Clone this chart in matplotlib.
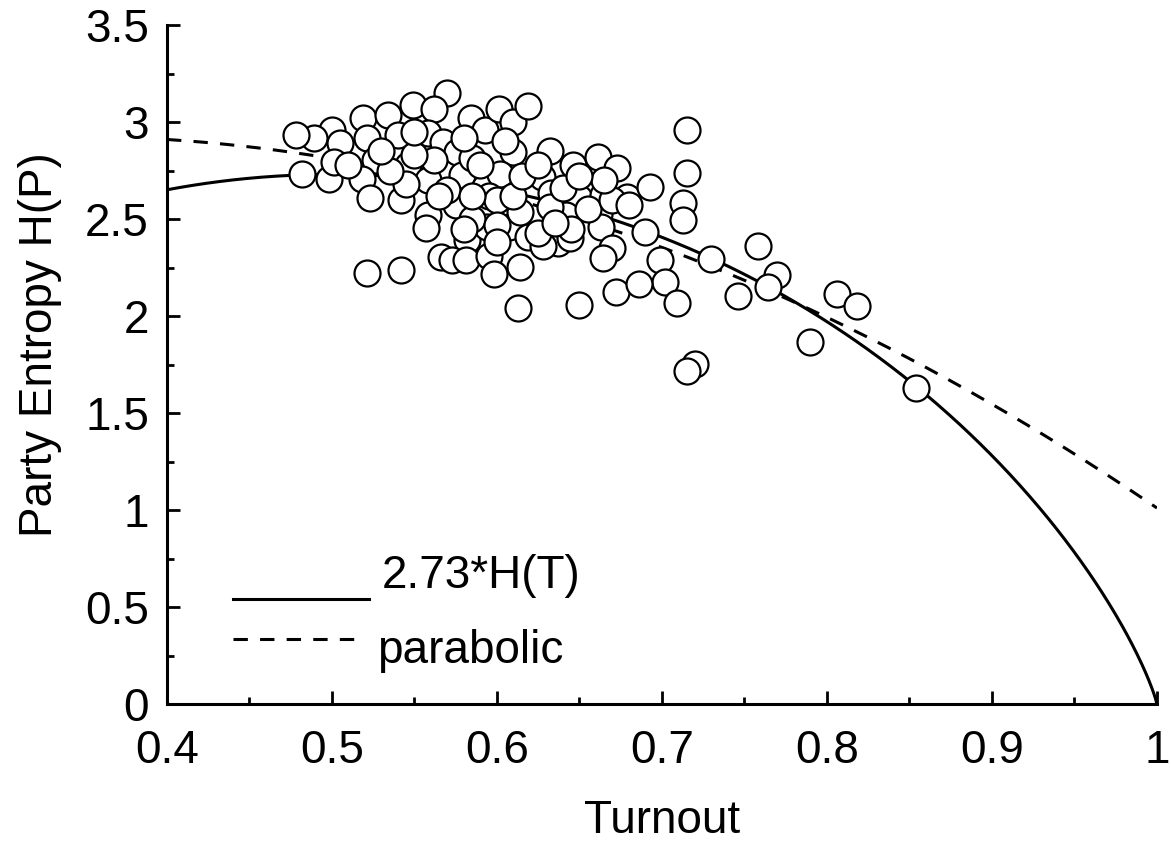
import numpy as np
import matplotlib
matplotlib.use("Agg")
import matplotlib.pyplot as plt
from matplotlib.ticker import MultipleLocator, FuncFormatter

plt.rcParams['font.family'] = ['Liberation Sans', 'DejaVu Sans']

# turnout / party entropy
turnout = [0.570, 0.549, 0.562, 0.519, 0.534, 0.584, 0.500, 0.489, 0.505, 0.521,
           0.540, 0.558, 0.567, 0.576, 0.593, 0.601, 0.526, 0.546, 0.558, 0.579,
           0.593, 0.482, 0.498, 0.518, 0.523, 0.542, 0.558, 0.575, 0.557, 0.582,
           0.594, 0.566, 0.573, 0.581, 0.595, 0.598, 0.521, 0.542, 0.478, 0.501,
           0.610, 0.585, 0.610, 0.562, 0.602, 0.595, 0.607, 0.613, 0.619, 0.632,
           0.646, 0.661, 0.673, 0.627, 0.633, 0.650, 0.664, 0.679, 0.619, 0.637,
           0.662, 0.663, 0.670, 0.664, 0.614, 0.672, 0.650, 0.693, 0.690, 0.730,
           0.699, 0.702, 0.686, 0.709, 0.715, 0.715, 0.713, 0.713, 0.758, 0.770,
           0.764, 0.746, 0.806, 0.818, 0.790, 0.720, 0.715, 0.854, 0.644, 0.600,
           0.614, 0.642, 0.628, 0.585, 0.545, 0.570, 0.610, 0.632,
           0.535, 0.550, 0.565, 0.585, 0.600, 0.615, 0.625, 0.640, 0.655, 0.645,
           0.625, 0.600, 0.580, 0.590, 0.605, 0.580, 0.550, 0.530, 0.510, 0.635,
           0.670, 0.680, 0.665, 0.650]
entropy = [3.149, 3.088, 3.067, 3.021, 3.036, 3.021, 2.959, 2.918, 2.892, 2.918,
           2.933, 2.943, 2.897, 2.845, 2.959, 3.067, 2.804, 2.778, 2.701, 2.727,
           2.665, 2.732, 2.706, 2.706, 2.608, 2.598, 2.521, 2.572, 2.454, 2.392,
           2.459, 2.304, 2.289, 2.289, 2.309, 2.216, 2.222, 2.237, 2.933, 2.794,
           3.000, 2.814, 2.845, 2.804, 2.732, 2.619, 2.459, 2.041, 3.082, 2.851,
           2.778, 2.820, 2.763, 2.716, 2.634, 2.608, 2.624, 2.613, 2.407, 2.376,
           2.526, 2.459, 2.351, 2.299, 2.253, 2.124, 2.057, 2.665, 2.433, 2.294,
           2.289, 2.175, 2.165, 2.067, 2.959, 2.737, 2.582, 2.495, 2.361, 2.211,
           2.149, 2.103, 2.113, 2.052, 1.866, 1.753, 1.716, 1.629, 2.402, 2.598,
           2.536, 2.520, 2.360, 2.500, 2.680, 2.650, 2.620, 2.560,
           2.750, 2.830, 2.620, 2.620, 2.470, 2.720, 2.780, 2.660, 2.550, 2.450,
           2.430, 2.380, 2.450, 2.780, 2.900, 2.920, 2.950, 2.850, 2.780, 2.480,
           2.600, 2.570, 2.700, 2.720]

# model curves
H_SCALE = 2.73
PARA_X0 = 0.4
PARA_COEF = [2.91, -0.544, -4.37]   # a + b*(x-x0) + c*(x-x0)^2

t = np.linspace(0.4, 1.0, 600)
p = np.clip(t, 1e-12, 1)
q = np.clip(1 - t, 1e-12, 1)
h_t = -(p * np.log2(p) + q * np.log2(q))
para = PARA_COEF[0] + PARA_COEF[1] * (t - PARA_X0) + PARA_COEF[2] * (t - PARA_X0) ** 2

fig = plt.figure(figsize=(11.71, 8.51), dpi=100)
ax = fig.add_axes([0.1426, 0.1727, 0.8454, 0.7979])

dash = (0, (4.7, 4))
ax.plot(t, H_SCALE * h_t, color='black', lw=2.2, zorder=2)
ax.plot(t, para, color='black', lw=2.2, linestyle=dash, zorder=2)
ax.scatter(turnout, entropy, s=350, facecolor='white', edgecolor='black',
           linewidth=1.6, zorder=3, clip_on=False)

ax.set_xlim(0.4, 1.0)
ax.set_ylim(0, 3.5)
ax.xaxis.set_major_locator(MultipleLocator(0.1))
ax.xaxis.set_minor_locator(MultipleLocator(0.05))
ax.yaxis.set_major_locator(MultipleLocator(0.5))
ax.yaxis.set_minor_locator(MultipleLocator(0.25))
fmt = FuncFormatter(lambda v, pos: f"{v:g}")
ax.xaxis.set_major_formatter(fmt)
ax.yaxis.set_major_formatter(fmt)

for s in ['top', 'right']:
    ax.spines[s].set_visible(False)
for s in ['left', 'bottom']:
    ax.spines[s].set_linewidth(2.2)

ax.tick_params(which='both', direction='in', width=2.0, labelsize=33)
ax.tick_params(which='major', length=9.4)
ax.tick_params(which='minor', length=5)
ax.tick_params(axis='x', which='major', pad=18)
ax.tick_params(axis='y', which='major', pad=13)

ax.set_xlabel('Turnout', fontsize=33)
ax.set_ylabel('Party Entropy H(P)', fontsize=33)
ax.xaxis.set_label_coords(0.5, -0.14)
ax.yaxis.set_label_coords(-0.106, 0.53)

# legend drawn by hand to match the offset layout of the original
ax.plot([0.0667, 0.204], [0.1546, 0.1546], transform=ax.transAxes,
        color='black', lw=2.2)
ax.plot([0.0667, 0.196], [0.0957, 0.0957], transform=ax.transAxes,
        color='black', lw=2.2, linestyle=dash)
ax.text(0.217, 0.1708, '2.73*H(T)', transform=ax.transAxes, fontsize=33,
        va='baseline', ha='left')
ax.text(0.212, 0.0604, 'parabolic', transform=ax.transAxes, fontsize=33,
        va='baseline', ha='left')

fig.savefig('out.png', dpi=100)
